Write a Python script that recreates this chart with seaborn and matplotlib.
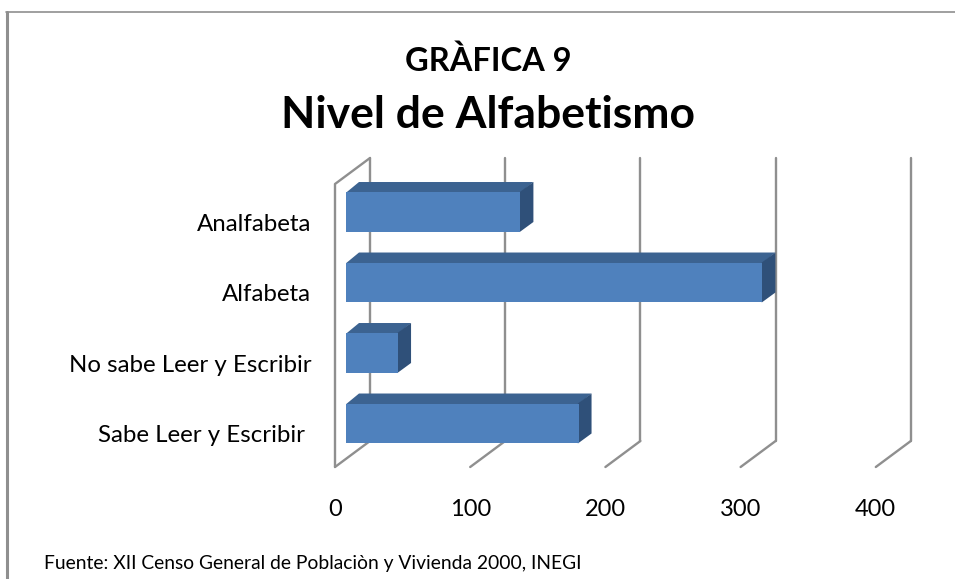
import matplotlib
matplotlib.use("Agg")
import matplotlib.pyplot as plt
from matplotlib.lines import Line2D
from matplotlib.patches import Polygon
from matplotlib.transforms import ScaledTranslation
import numpy as np
import pandas as pd
import seaborn as sns

categories = ["Analfabeta", "Alfabeta", "No sabe Leer y Escribir", "Sabe Leer y Escribir "]
values = [129, 308, 38.5, 172]
tick_values = [0, 100, 200, 300, 400]

sns.set_theme(style="white")
plt.rcParams["font.family"] = ["Lato", "DejaVu Sans"]

W, H = 955, 579
GRAY = "#8f8f8f"
px_per_unit = 1.352
px_per_cat = 70.5

# axes is the front plane of the 3d box, 0 on the bars sits a bit inside it
left, right, top, bottom = 335, 911, 184, 467
bar_gap = 11 / px_per_unit
wall_dx = 35 / px_per_unit
wall_dy = 26 / px_per_cat
bar_dx = 13 / px_per_unit
bar_dy = 10 / px_per_cat

fig = plt.figure(figsize=(W / 100, H / 100), dpi=100, facecolor="white")
ax = fig.add_axes([left / W, 1 - bottom / H, (right - left) / W, (bottom - top) / H])
ax.patch.set_alpha(0)

df = pd.DataFrame({"categoria": categories, "valor": values})
sns.barplot(data=df, x="valor", y="categoria", color="#4f81bd", saturation=1,
            width=0.567, linewidth=0, ax=ax, zorder=5)

ax.set_xlim(-bar_gap, (right - left) / px_per_unit - bar_gap)
ax.set_ylim((bottom - 212) / px_per_cat, (top - 212) / px_per_cat)

# box walls, grid lines on the back plane
y_low, y_high = ax.get_ylim()
line_kw = dict(color=GRAY, lw=1.7, clip_on=False, zorder=1, solid_capstyle="round")
for v in tick_values:
    fx = v - bar_gap
    bx = fx + wall_dx
    ax.plot([bx, bx], [y_low - wall_dy, y_high - wall_dy], **line_kw)
    ax.plot([fx, bx], [y_low, y_low - wall_dy], **line_kw)
ax.plot([-bar_gap, -bar_gap, wall_dx - bar_gap], [y_low, y_high, y_high - wall_dy], **line_kw)

# 3d faces of each bar, drawn under the front face so no seam shows
for bar in list(ax.patches):
    x1 = bar.get_x() + bar.get_width()
    y0 = bar.get_y()
    y1 = y0 + bar.get_height()
    ax.add_patch(Polygon([(0, y0 + 0.01), (x1, y0 + 0.01), (x1 + bar_dx, y0 - bar_dy), (bar_dx, y0 - bar_dy)],
                         facecolor="#3c6391", edgecolor="none", clip_on=False, zorder=4))
    ax.add_patch(Polygon([(x1 - 0.5, y0), (x1 + bar_dx, y0 - bar_dy), (x1 + bar_dx, y1 - bar_dy), (x1 - 0.5, y1)],
                         facecolor="#2f5079", edgecolor="none", clip_on=False, zorder=4))

ax.set_xticks(np.array(tick_values) - bar_gap)
ax.set_xticklabels(tick_values)
ax.tick_params(axis="x", length=0, pad=23, labelsize=17, colors="black")
ax.tick_params(axis="y", length=0, pad=17, labelsize=17.3, colors="black")
ax.set_xlabel("")
ax.set_ylabel("")
sns.despine(ax=ax, left=True, bottom=True)

# category labels sit lower than the bars in the original
shift = ScaledTranslation(0, -10 / 100, fig.dpi_scale_trans)
for lab in ax.get_yticklabels():
    lab.set_transform(lab.get_transform() + shift)

fig.text(488 / W, 1 - 61 / H, "GRÀFICA 9", ha="center", va="center", fontsize=23.5,
         fontweight="bold", color="black")
fig.text(488 / W, 1 - 115 / H, "Nivel de Alfabetismo", ha="center", va="center", fontsize=32,
         fontweight="bold", color="black")
fig.text(44 / W, 1 - 563 / H, "Fuente: XII Censo General de Poblaciòn y Vivienda 2000, INEGI",
         ha="left", va="center", fontsize=13.9, color="black")

# outer frame, only left and top show
fig.add_artist(Line2D([6.5 / W, 6.5 / W], [0, 1 - 12 / H], color=GRAY, lw=2.2))
fig.add_artist(Line2D([5.5 / W, 1], [1 - 12 / H, 1 - 12 / H], color=GRAY, lw=1.2))

fig.savefig("out.png", dpi=100)
